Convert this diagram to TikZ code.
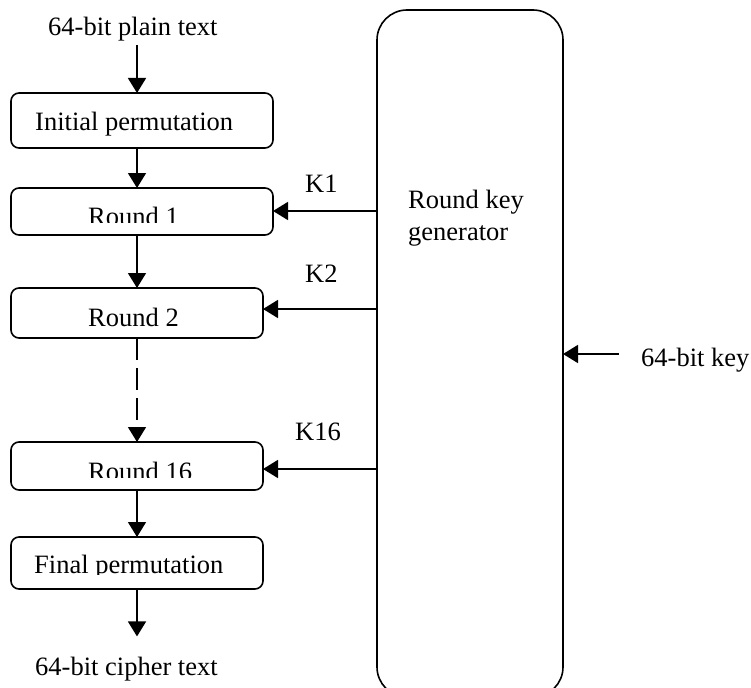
\documentclass[tikz,border=0pt]{standalone}
\usepackage{fontspec}
\setmainfont{Liberation Serif}
\usetikzlibrary{arrows.meta}
\begin{document}
\begin{tikzpicture}[x=1pt,y=-1pt,
  stage/.style={draw, line width=1.6pt, rounded corners=8pt, inner sep=0pt, outer sep=0pt, anchor=north west},
  lbl/.style={inner sep=0pt, anchor=base west, font=\fontsize{26.5}{31}\selectfont},
  flow/.style={line width=1.6pt, -{Triangle[width=18pt,length=15pt]}},
]
\useasboundingbox (0,0) rectangle (751,687);
\clip (0,0) rectangle (751,687);

% stages of the cipher
\node[stage, minimum width=262pt, minimum height=55pt] (ip)  at (11,93)  {};
\node[stage, minimum width=262pt, minimum height=47pt] (r1)  at (11,188) {};
\node[stage, minimum width=252pt, minimum height=50pt] (r2)  at (11,288) {};
\node[stage, minimum width=252pt, minimum height=48pt] (r16) at (11,442) {};
\node[stage, minimum width=252pt, minimum height=52pt] (fp)  at (11,537) {};

% key schedule block
\node[stage, rounded corners=30pt, minimum width=186pt, minimum height=687pt] (gen) at (377,10) {};

% labels
\node[lbl] (plain)  at (48,36)  {64-bit plain text};
\node[lbl] (cipher) at (35,675) {64-bit cipher text};
\node[lbl] (tip)    at (35,131) {Initial permutation};
\node[lbl] (t2)     at (88,326) {Round 2};
\begin{scope}
  \clip (0,0) rectangle (751,222);
  \node[lbl] (t1) at (88,225) {Round 1};
\end{scope}
\begin{scope}
  \clip (0,0) rectangle (751,477);
  \node[lbl] (t16) at (88,480) {Round 16};
\end{scope}
\begin{scope}
  \clip (0,0) rectangle (751,574);
  \node[lbl] (tfp) at (34,573) {Final permutation};
\end{scope}
\node[lbl] (g1) at (408,208) {Round key};
\node[lbl] (g2) at (408,240) {generator};
\node[lbl] (k1)  at (305,192) {K1};
\node[lbl] (k2)  at (305,282) {K2};
\node[lbl] (k16) at (295,440) {K16};
\node[lbl] (key) at (641,366) {64-bit key};

% data path
\coordinate (ax) at (137,0);
\draw[flow, shorten <=3pt] (plain.south -| ax) -- (ip.north -| ax);
\draw[flow] (ip.south -| ax) -- (r1.north -| ax);
\draw[flow] (r1.south -| ax) -- (r2.north -| ax);
\draw[flow, dash pattern=on 22pt off 8pt] (r2.south -| ax) -- (r16.north -| ax);
\draw[flow] (r16.south -| ax) -- (fp.north -| ax);
\draw[flow, shorten >=20pt] (fp.south -| ax) -- (cipher.north -| ax);

% round keys
\draw[flow] (gen.west |- 0,211) -- (r1.east |- 0,211);
\draw[flow] (gen.west |- 0,309) -- (r2.east |- 0,309);
\draw[flow] (gen.west |- 0,469) -- (r16.east |- 0,469);
\draw[flow] ([xshift=-22pt]key.west |- 0,354) -- (gen.east |- 0,354);
\end{tikzpicture}
\end{document}
